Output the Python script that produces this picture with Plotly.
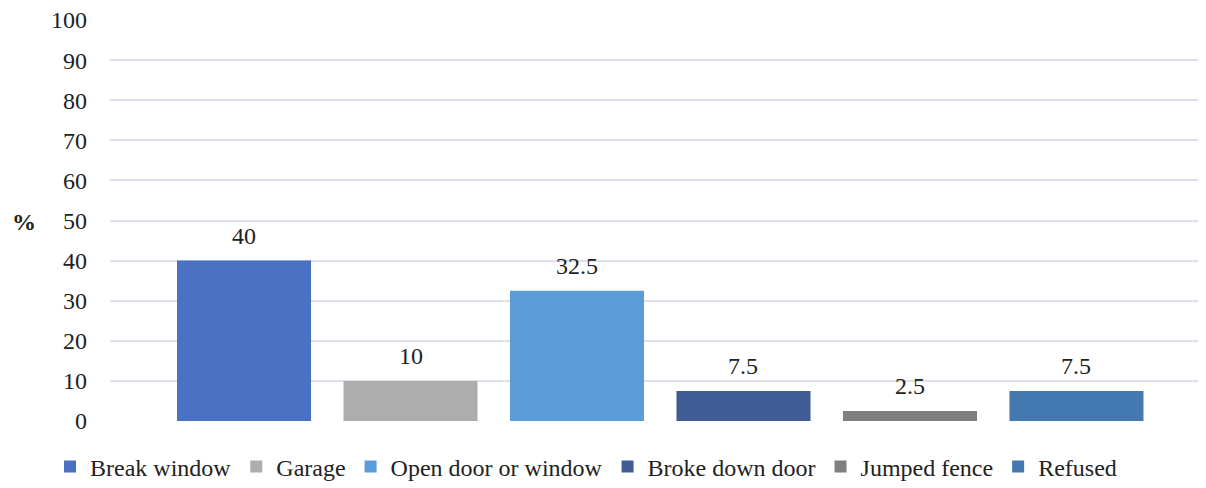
import plotly.graph_objects as go

categories = ["Break window", "Garage", "Open door or window", "Broke down door", "Jumped fence", "Refused"]
values = [40, 10, 32.5, 7.5, 2.5, 7.5]
labels = ["40", "10", "32.5", "7.5", "2.5", "7.5"]
colors = ["#4A71C2", "#ADADAD", "#5A9CD8", "#3F5C95", "#7F7F7F", "#4478B1"]
y_ticks = [0, 10, 20, 30, 40, 50, 60, 70, 80, 90, 100]

FONT = "Liberation Serif, Times New Roman, serif"
TXT = "#222222"
FS = 24

# page body has an 8px margin, so figure is offset by (8, 8)
W, H = 1198, 480
L, T, B = 102, 12, 67
plot_w = W - L
plot_h = H - T - B

fig = go.Figure()
for i, (cat, val, col) in enumerate(zip(categories, values, colors)):
    fig.add_trace(go.Bar(
        x=[i], y=[val], name=cat,
        marker=dict(color=col, line=dict(width=0)),
        width=0.805,
    ))
    fig.add_annotation(x=i, y=val, text=labels[i], showarrow=False,
                       yanchor="middle", yshift=25,
                       font=dict(family=FONT, size=FS, color=TXT))

fig.update_layout(
    width=W, height=H,
    margin=dict(l=L, r=0, t=T, b=B),
    paper_bgcolor="white", plot_bgcolor="white",
    barmode="overlay",
    font=dict(family=FONT, size=FS, color=TXT),
    showlegend=True,
    legend=dict(orientation="h", xref="container", yref="container",
                x=42 / W, xanchor="left", y=(H - 459) / H, yanchor="middle",
                font=dict(family=FONT, size=FS, color=TXT),
                itemwidth=30, tracegroupgap=0, bgcolor="rgba(0,0,0,0)"),
    xaxis=dict(range=[-0.805, 5.778], showticklabels=False, showgrid=False,
               zeroline=False, showline=False, ticks=""),
    yaxis=dict(range=[0, 100], tickvals=y_ticks, showgrid=True, gridcolor="#DCE1EA",
               gridwidth=1.5, zeroline=False, showline=False, ticks="",
               ticklabelstandoff=22, ticklabeloverflow="allow",
               tickfont=dict(family=FONT, size=FS, color=TXT)),
)
fig.add_annotation(text="<b>%</b>", xref="paper", yref="paper",
                   x=(24 - 110) / plot_w, y=(421 - 222) / plot_h,
                   xanchor="center", yanchor="middle", showarrow=False,
                   font=dict(family=FONT, size=FS, color=TXT))

fig.write_html("out.html")
